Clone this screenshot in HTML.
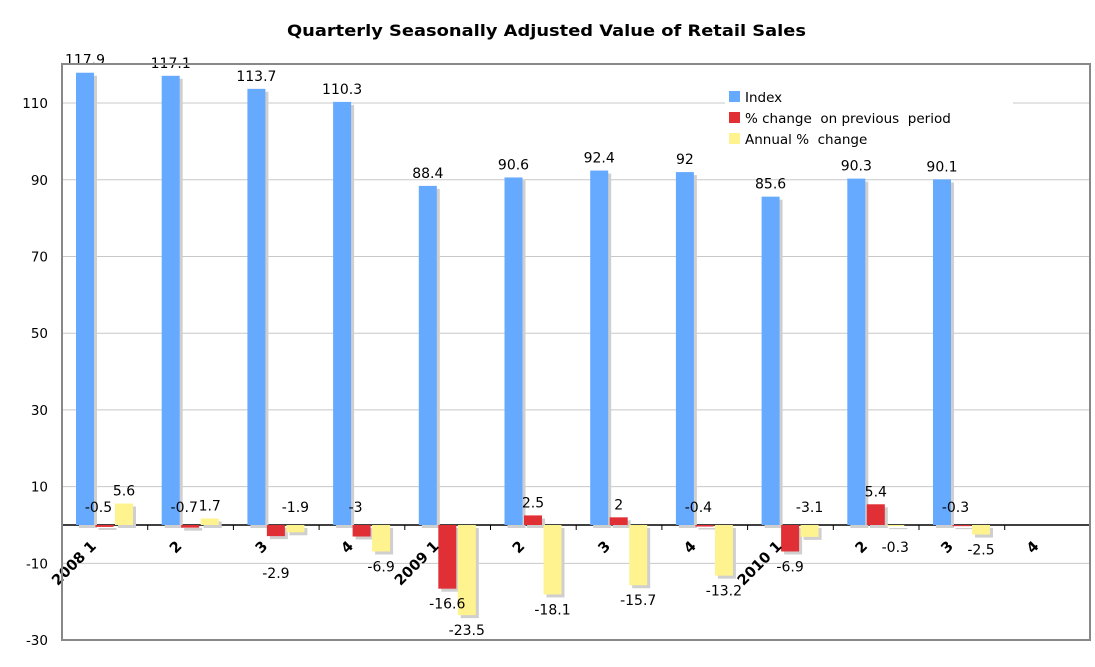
<!DOCTYPE html>
<html><head><meta charset="utf-8"><style>
body{margin:0;background:#fff;font-family:"DejaVu Sans","Liberation Sans",sans-serif}
</style></head><body>
<svg id="chart" width="1095" height="663" xmlns="http://www.w3.org/2000/svg" font-family="DejaVu Sans, Liberation Sans, sans-serif">
<text x="287" y="36" textLength="519" lengthAdjust="spacingAndGlyphs" font-size="16" font-weight="bold">Quarterly Seasonally Adjusted Value of Retail Sales</text>
<g id="grid"></g><g id="bars"></g><g id="labels"></g>
<rect x="62" y="64" width="1028" height="576" fill="none" stroke="#888" stroke-width="2"/>
<g>
<rect x="725" y="84" width="288" height="66" fill="#fff"/>
<rect x="729" y="91" width="11" height="11" fill="#66aaff"/>
<text x="745" y="102" font-size="13.5">Index</text>
<rect x="729" y="112" width="11" height="11" fill="#e03035"/>
<text x="745" y="123" font-size="13.5" xml:space="preserve">% change  on previous  period</text>
<rect x="729" y="133" width="11" height="11" fill="#fff38f"/>
<text x="745" y="144" font-size="13.5" xml:space="preserve">Annual %  change</text>
</g>
</svg>
<script>
const categories=["2008 1","2","3","4","2009 1","2","3","4","2010 1","2","3","4"];
const indexVals=[117.9,117.1,113.7,110.3,88.4,90.6,92.4,92,85.6,90.3,90.1,null];
const changeVals=[-0.5,-0.7,-2.9,-3,-16.6,2.5,2,-0.4,-6.9,5.4,-0.3,null];
const annualVals=[5.6,1.7,-1.9,-6.9,-23.5,-18.1,-15.7,-13.2,-3.1,-0.3,-2.5,null];
const yTicks=[-30,-10,10,30,50,70,90,110];
// label placement for negative values: a = above axis, b = below bar, B = further below
const changePlace=['a','a','B','a','b','','','a','b','','a',''];
const annualPlace=['','','a','b','b','b','b','b','a','b','b',''];
const NS="http://www.w3.org/2000/svg";
const x0=62,gw=85.7,zeroY=525,k=3.836;
const y=v=>zeroY-v*k;
function mk(tag,attrs,parent,txt){const e=document.createElementNS(NS,tag);for(const a in attrs)e.setAttribute(a,attrs[a]);if(txt!=null)e.textContent=txt;document.getElementById(parent).appendChild(e);return e;}
yTicks.forEach(t=>{
 const l=mk('line',{x1:x0,x2:1090,y1:y(t),y2:y(t),stroke:'#c8c8c8'},'grid');
 
 
 const tx=mk('text',{x:48,y:y(t)+5,'text-anchor':'end','font-size':13.5},'grid',String(t));
 
 
});
const ax=mk('line',{x1:x0,x2:1090,y1:zeroY,y2:zeroY,stroke:'#000','stroke-width':1.5},'grid');


const yax=mk('line',{x1:x0,x2:x0,y1:64,y2:640,stroke:'#000','stroke-width':1.5},'grid');


categories.forEach((c,i)=>{
 const gx=x0+i*gw;
 const tk=mk('line',{x1:gx+gw,x2:gx+gw,y1:zeroY,y2:zeroY+5,stroke:'#000'},'grid');
 
 
 const lx=gx+35,ly=zeroY+22;
 const t=mk('text',{x:lx,y:ly,'text-anchor':'end','font-size':14.5,'font-weight':'bold',transform:`rotate(-45 ${lx} ${ly})`},'labels',c);
 
 
});
const series=[[indexVals,'#66aaff','index',null],[changeVals,'#e03035','change',changePlace],[annualVals,'#fff38f','annual',annualPlace]];
series.forEach(([vals,col,nm,place],s)=>{
 vals.forEach((v,i)=>{
  if(v==null)return;
  const bx=x0+i*gw+14+s*19.5,bw=18;
  const top=Math.min(y(v),zeroY),h=Math.abs(y(v)-zeroY);
  const sh=mk('rect',{x:bx+3,y:top+3,width:bw,height:Math.max(h,1),fill:'#cfcfcf'},'bars');
  
  
  const r=mk('rect',{x:bx,y:top,width:bw,height:Math.max(h,1),fill:col},'bars');
  
  
  let ly;
  if(v>=0) ly=y(v)-8;
  else {
    const p=place?place[i]:'b';
    if(p==='a') ly=zeroY-13;
    else if(p==='B') ly=Math.max(y(v)+42,zeroY+30);
    else ly=Math.max(y(v)+20,zeroY+27);
  }
  const t=mk('text',{x:bx+bw/2-(v<0&&place&&place[i]==='a'&&s===1?6:0),y:ly,'text-anchor':'middle','font-size':14},'labels',String(v));
  
  
 });
});
</script>
</body></html>
